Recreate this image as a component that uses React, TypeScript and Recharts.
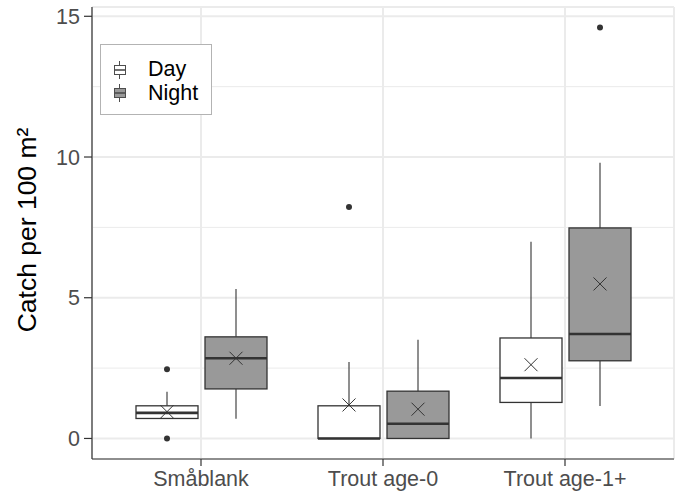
import React from 'react';
import { ComposedChart, Bar, XAxis, YAxis, CartesianGrid } from 'recharts';

const categories = ['Småblank', 'Trout age-0', 'Trout age-1+'];

// Day boxes (white)
const dayLower = [0.71, 0, 0];
const dayQ1 = [0.71, 0, 1.28];
const dayMedian = [0.91, 0, 2.15];
const dayQ3 = [1.16, 1.16, 3.57];
const dayUpper = [1.66, 2.72, 6.99];
const dayMean = [0.95, 1.19, 2.62];
const dayOutliers = [[0, 2.46], [8.22], []];

// Night boxes (grey)
const nightLower = [0.7, 0, 1.15];
const nightQ1 = [1.76, 0, 2.76];
const nightMedian = [2.85, 0.52, 3.71];
const nightQ3 = [3.61, 1.68, 7.48];
const nightUpper = [5.31, 3.51, 9.8];
const nightMean = [2.85, 1.04, 5.49];
const nightOutliers = [[], [], [14.6]];

const yTicks = [0, 5, 10, 15];
const yMinorTicks = [2.5, 7.5, 12.5];
const yDomain: [number, number] = [-0.73, 15.33];

const FONT = '"Liberation Sans", Arial, Helvetica, sans-serif';
const INK = '#333333';

function stats(i: number, lower: number[], q1: number[], median: number[], q3: number[], upper: number[], mean: number[], outliers: number[][]) {
  const all = [lower[i], upper[i], ...outliers[i]];
  return {
    lower: lower[i],
    q1: q1[i],
    median: median[i],
    q3: q3[i],
    upper: upper[i],
    mean: mean[i],
    outliers: outliers[i],
    range: [Math.min(...all), Math.max(...all)] as [number, number],
  };
}

const data = categories.map((name, i) => ({
  name,
  day: stats(i, dayLower, dayQ1, dayMedian, dayQ3, dayUpper, dayMean, dayOutliers),
  night: stats(i, nightLower, nightQ1, nightMedian, nightQ3, nightUpper, nightMean, nightOutliers),
}));

type Stats = ReturnType<typeof stats>;

function BoxShape(props: any) {
  const { x, y, width, height, payload, group, fill } = props;
  const s: Stats = payload[group];
  const [lo, hi] = s.range;
  // bar spans the full range, so map values linearly inside it
  const k = hi === lo ? 0 : height / (hi - lo);
  const py = (v: number) => y + (hi - v) * k;
  const cx = x + width / 2;
  const m = 6.5;
  return (
    <g>
      <line x1={cx} x2={cx} y1={py(s.upper)} y2={py(s.q3)} stroke={INK} strokeWidth={1.1} />
      <line x1={cx} x2={cx} y1={py(s.q1)} y2={py(s.lower)} stroke={INK} strokeWidth={1.1} />
      <rect
        x={x}
        y={py(s.q3)}
        width={width}
        height={Math.max(py(s.q1) - py(s.q3), 0)}
        fill={fill}
        stroke={INK}
        strokeWidth={1.3}
      />
      <line x1={x} x2={x + width} y1={py(s.median)} y2={py(s.median)} stroke={INK} strokeWidth={2.6} />
      <line x1={cx - m} x2={cx + m} y1={py(s.mean) - m} y2={py(s.mean) + m} stroke={INK} strokeWidth={1} />
      <line x1={cx - m} x2={cx + m} y1={py(s.mean) + m} y2={py(s.mean) - m} stroke={INK} strokeWidth={1} />
      {s.outliers.map((v, i) => (
        <circle key={i} cx={cx} cy={py(v)} r={3} fill={INK} />
      ))}
    </g>
  );
}

function YTitle() {
  return (
    <text
      x={27}
      y={230}
      transform="rotate(-90 27 230)"
      textAnchor="middle"
      dominantBaseline="central"
      fontSize={26.5}
      fontFamily={FONT}
      fill="#000"
    >
      Catch per 100 m²
    </text>
  );
}

function KeyGlyph({ fill, top }: { fill: string; top: number }) {
  return (
    <svg width={14} height={20} style={{ position: 'absolute', left: 12, top }}>
      <line x1={6.5} x2={6.5} y1={1} y2={19} stroke="#4d4d4d" strokeWidth={1} />
      <rect x={1.5} y={5.5} width={11} height={9} fill={fill} stroke="#4d4d4d" strokeWidth={1} />
      <line x1={1.5} x2={12.5} y1={10} y2={10} stroke="#4d4d4d" strokeWidth={1.6} />
    </svg>
  );
}

function LegendBox() {
  const textStyle: React.CSSProperties = {
    position: 'absolute',
    left: 47,
    fontSize: 21.5,
    fontFamily: FONT,
    color: '#000',
    lineHeight: '24px',
  };
  return (
    <div
      style={{
        position: 'absolute',
        left: 100,
        top: 44,
        width: 110,
        height: 69,
        border: '1px solid #b3b3b3',
        background: '#fff',
      }}
    >
      <KeyGlyph fill="#ffffff" top={15} />
      <KeyGlyph fill="#999999" top={38} />
      <div style={{ ...textStyle, top: 12 }}>Day</div>
      <div style={{ ...textStyle, top: 36 }}>Night</div>
    </div>
  );
}

export default function App() {
  const tick = { fill: '#4d4d4d', fontSize: 21.5, fontFamily: FONT };
  return (
    <div style={{ position: 'absolute', left: 0, top: 0, width: 680, height: 492, background: '#fff' }}>
      <ComposedChart
        width={680}
        height={492}
        data={data}
        margin={{ top: 7, right: 6, bottom: 0, left: 0 }}
        barSize={62}
        barGap={7}
      >
        <CartesianGrid vertical={false} horizontalValues={yMinorTicks} stroke="#ebebeb" strokeWidth={1} />
        <CartesianGrid stroke="#ebebeb" strokeWidth={2} />
        <XAxis
          dataKey="name"
          padding={{ left: 18, right: 18 }}
          height={33}
          tick={tick}
          tickSize={7}
          tickMargin={5}
          tickLine={{ stroke: INK, strokeWidth: 1.2 }}
          axisLine={{ stroke: INK, strokeWidth: 1.2 }}
        />
        <XAxis
          xAxisId="top"
          orientation="top"
          dataKey="name"
          padding={{ left: 18, right: 18 }}
          height={0}
          tick={false}
          tickLine={false}
          axisLine={{ stroke: INK, strokeWidth: 1.2 }}
        />
        <YAxis
          type="number"
          domain={yDomain}
          ticks={yTicks}
          width={92}
          tick={tick}
          tickSize={8}
          tickMargin={4}
          tickLine={{ stroke: INK, strokeWidth: 1.2 }}
          axisLine={{ stroke: INK, strokeWidth: 1.2 }}
          label={{ content: () => <YTitle /> }}
        />
        <YAxis
          yAxisId="right"
          orientation="right"
          type="number"
          domain={yDomain}
          width={0}
          tick={false}
          tickLine={false}
          axisLine={{ stroke: INK, strokeWidth: 1.2 }}
        />
        <Bar
          dataKey={(d: any) => d.day.range}
          name="Day"
          isAnimationActive={false}
          shape={(p: any) => <BoxShape {...p} group="day" fill="#ffffff" />}
        />
        <Bar
          dataKey={(d: any) => d.night.range}
          name="Night"
          isAnimationActive={false}
          shape={(p: any) => <BoxShape {...p} group="night" fill="#999999" />}
        />
      </ComposedChart>
      <LegendBox />
    </div>
  );
}
